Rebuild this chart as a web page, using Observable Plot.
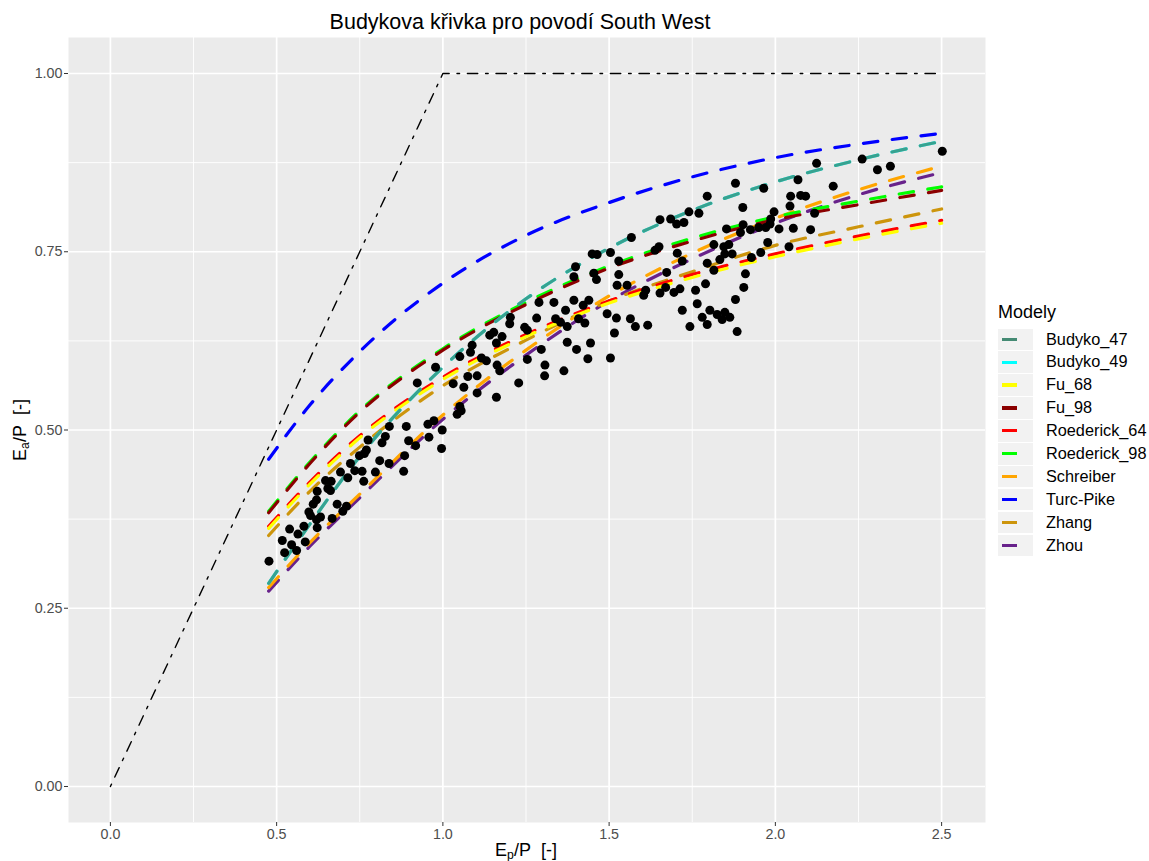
<!DOCTYPE html>
<html>
<head>
<meta charset="utf-8">
<script src="https://cdn.jsdelivr.net/npm/d3@7"></script>
<script src="https://cdn.jsdelivr.net/npm/@observablehq/plot@0.6"></script>
<style>
  html, body { margin: 0; padding: 0; background: white; }
  #wrap { position: relative; width: 1149px; height: 861px; font-family: "Liberation Sans", Arial, sans-serif; color: #000; }
  #title { position: absolute; top: 12px; left: 0; width: 1040px; text-align: center; font-size: 21.5px; line-height: 1; white-space: nowrap; }
  #chart { position: absolute; top: 37px; left: 0; }
  #xlab { position: absolute; top: 841px; left: 426px; width: 200px; text-align: center; font-size: 18px; line-height: 1; white-space: nowrap; }
  #ylab { position: absolute; top: 421px; left: -80px; width: 200px; text-align: center; font-size: 18px; line-height: 1; white-space: nowrap; transform: rotate(-90deg); }
  sub { font-size: 0.68em; vertical-align: -0.25em; line-height: 0; }
  #legend { position: absolute; left: 998px; top: 0; }
  .ltitle { position: absolute; top: 302.5px; left: 0; font-size: 18px; line-height: 1; white-space: nowrap; }
  .lkey { position: absolute; left: 0; width: 35px; height: 21.5px; background: #F2F2F2; }
  .lline { position: absolute; left: 3.5px; width: 15px; height: 3.2px; top: 9.2px; }
  .llab { position: absolute; left: 48px; font-size: 16.3px; line-height: 21.5px; white-space: nowrap; }
</style>
</head>
<body>
<div id="wrap">
  <div id="title">Budykova křivka pro povodí South West</div>
  <div id="chart"></div>
  <div id="ylab">E<sub>a</sub>/P&nbsp; [-]</div>
  <div id="xlab">E<sub>p</sub>/P&nbsp; [-]</div>
  <div id="legend"></div>
</div>
<script>
// Model names and line colours
const models = ["Budyko_47", "Budyko_49", "Fu_68", "Fu_98", "Roederick_64", "Roederick_98", "Schreiber", "Turc-Pike", "Zhang", "Zhou"];
const modelColors = ["#458B74", "#00FFFF", "#FFFF00", "#8B0000", "#FF0000", "#00FF00", "#FFA500", "#0000FF", "#CD950C", "#68228B"];

// Model curves: Ea/P evaluated along Ep/P
const phiGrid      = [0.476, 0.6, 0.75, 1.0, 1.25, 1.5, 1.75, 2.0, 2.25, 2.5];
const budyko47     = [0.285, 0.368, 0.463, 0.588, 0.684, 0.755, 0.808, 0.848, 0.879, 0.905];
const budyko49     = [0.285, 0.368, 0.463, 0.588, 0.684, 0.755, 0.808, 0.848, 0.879, 0.905];
const fu68         = [0.362, 0.424, 0.489, 0.571, 0.631, 0.678, 0.714, 0.743, 0.768, 0.790];
const fu98         = [0.384, 0.453, 0.525, 0.612, 0.676, 0.727, 0.765, 0.795, 0.816, 0.836];
const roederick64  = [0.365, 0.427, 0.492, 0.574, 0.634, 0.681, 0.718, 0.747, 0.772, 0.794];
const roederick98  = [0.386, 0.455, 0.527, 0.614, 0.679, 0.730, 0.769, 0.799, 0.821, 0.841];
const schreiber    = [0.279, 0.342, 0.410, 0.521, 0.612, 0.688, 0.748, 0.797, 0.837, 0.870];
const turcPike     = [0.459, 0.535, 0.610, 0.706, 0.773, 0.819, 0.855, 0.882, 0.901, 0.916];
const zhang        = [0.352, 0.414, 0.476, 0.562, 0.626, 0.681, 0.722, 0.759, 0.785, 0.810];
const zhou         = [0.274, 0.337, 0.405, 0.515, 0.605, 0.681, 0.740, 0.790, 0.830, 0.861];
const modelValues = [budyko47, budyko49, fu68, fu98, roederick64, roederick98, schreiber, turcPike, zhang, zhou];

// Energy / water limits
const limitPhi = [0, 1, 2.5];
const limitVal = [0, 1, 1];

// Observed catchment-years: Ep/P and Ea/P
const epP = [
  0.477,0.517,0.539,0.524,0.545,0.560,0.564,0.586,0.582,0.622,0.620,0.602,0.597,0.610,0.620,0.632,0.622,0.647,0.654,0.664,
  0.662,0.667,0.682,0.699,0.710,0.692,0.714,0.722,0.735,0.757,0.762,0.749,0.764,0.770,0.775,0.797,0.810,0.817,0.827,0.839,
  0.838,0.882,0.885,0.890,0.897,0.918,
  0.955,0.973,0.998,0.958,0.996,0.923,0.978,1.031,1.051,1.063,1.075,1.088,1.083,1.103,1.103,1.051,1.043,1.055,1.116,1.131,
  1.141,1.153,1.161,1.178,1.163,1.171,1.161,1.203,1.201,1.228,1.246,1.254,1.254,1.282,1.289,1.296,1.307,1.306,1.334,1.339,
  1.364,1.374,1.369,1.394,1.402,1.408,
  1.399,1.394,1.454,1.462,1.449,1.464,1.504,1.529,1.529,1.567,1.638,1.650,1.705,1.720,1.673,1.524,1.554,1.610,1.604,1.653,
  1.670,1.695,1.713,1.422,1.439,1.427,1.354,1.374,1.494,1.522,1.564,1.579,1.616,1.516,1.444,1.436,1.504,1.720,1.743,1.760,
  1.765,1.790,1.795,1.780,1.803,1.795,1.815,1.815,1.825,1.840,1.848,1.863,1.833,1.845,1.848,1.860,1.870,1.853,1.903,1.895,
  1.928,1.910,1.905,1.880,1.885,
  1.795,1.880,1.902,1.740,1.770,1.653,1.685,1.703,1.725,
  2.502,2.261,2.307,2.346,2.124,2.068,1.965,2.174,2.046,2.076,2.091,2.044,1.996,1.986,1.984,2.118,1.925,1.950,1.971,2.011,
  2.054,2.106,1.977,2.041,1.956
];
const eaP = [
  0.316,0.345,0.361,0.328,0.339,0.331,0.354,0.343,0.365,0.363,0.374,0.380,0.385,0.396,0.402,0.378,0.414,0.429,0.418,0.428,
  0.415,0.376,0.396,0.386,0.393,0.441,0.433,0.453,0.443,0.442,0.428,0.464,0.467,0.472,0.486,0.441,0.457,0.482,0.491,0.505,
  0.453,0.442,0.464,0.505,0.485,0.478,
  0.508,0.513,0.500,0.490,0.474,0.566,0.588,0.565,0.603,0.560,0.575,0.619,0.609,0.576,0.552,0.533,0.522,0.527,0.601,0.597,
  0.633,0.637,0.622,0.631,0.591,0.583,0.546,0.658,0.649,0.566,0.644,0.640,0.599,0.657,0.679,0.613,0.591,0.576,0.679,0.656,
  0.583,0.623,0.668,0.682,0.613,0.656,
  0.729,0.715,0.720,0.711,0.747,0.746,0.749,0.737,0.718,0.770,0.752,0.757,0.748,0.737,0.721,0.703,0.703,0.696,0.689,0.692,
  0.700,0.693,0.698,0.675,0.682,0.650,0.651,0.645,0.663,0.657,0.656,0.645,0.647,0.636,0.622,0.600,0.601,0.668,0.645,0.696,
  0.677,0.705,0.734,0.658,0.668,0.648,0.760,0.724,0.662,0.655,0.665,0.658,0.739,0.757,0.747,0.760,0.747,0.782,0.788,0.777,
  0.742,0.719,0.700,0.683,0.638,
  0.828,0.846,0.812,0.806,0.804,0.795,0.796,0.789,0.791,
  0.891,0.880,0.865,0.870,0.874,0.851,0.839,0.842,0.828,0.829,0.828,0.814,0.806,0.796,0.789,0.804,0.781,0.784,0.784,0.782,
  0.783,0.781,0.763,0.757,0.749
];

// Axis breaks
const xMajor = [0, 0.5, 1, 1.5, 2, 2.5];
const xMinor = [0.25, 0.75, 1.25, 1.75, 2.25];
const yMajor = [0, 0.25, 0.5, 0.75, 1];
const yMinor = [0.125, 0.375, 0.625, 0.875];

const points = epP.map((p, i) => ({phi: p, val: eaP[i]}));
const limit = limitPhi.map((p, i) => ({phi: p, val: limitVal[i]}));

// One dashed line per model; drawn in reverse so Budyko_47 ends up on top
const lineMarks = models.map((m, k) => {
  const data = phiGrid.map((p, i) => ({phi: p, val: modelValues[k][i]}));
  return Plot.line(data, {
    x: "phi", y: "val", curve: "monotone-x",
    stroke: modelColors[k], strokeWidth: 3.2, strokeDasharray: "14.5,14.5",
    strokeOpacity: m === "Budyko_47" ? 0.8 : 1
  });
}).reverse();

const chart = Plot.plot({
  width: 990,
  height: 824,
  marginLeft: 68, marginRight: 5, marginTop: 0, marginBottom: 39,
  x: {domain: [-0.126, 2.632]},
  y: {domain: [-0.0505, 1.0505]},
  style: {fontFamily: "'Liberation Sans', Arial, sans-serif", color: "#4D4D4D", background: "white", overflow: "visible"},
  marks: [
    Plot.frame({fill: "#EBEBEB", stroke: "none"}),
    Plot.ruleX(xMinor, {stroke: "white", strokeWidth: 0.9}),
    Plot.ruleY(yMinor, {stroke: "white", strokeWidth: 0.9}),
    Plot.ruleX(xMajor, {stroke: "white", strokeWidth: 1.7}),
    Plot.ruleY(yMajor, {stroke: "white", strokeWidth: 1.7}),
    Plot.line(limit, {x: "phi", y: "val", stroke: "black", strokeWidth: 1.4, strokeDasharray: "2.6,7.8,10.4,7.8"}),
    ...lineMarks,
    Plot.dot(points, {x: "phi", y: "val", r: 4.5, fill: "black", stroke: "none"}),
    Plot.axisX({ticks: xMajor, tickFormat: d => d.toFixed(1), tickSize: 4, tickPadding: 2, fontSize: 14.3, label: null, stroke: "#333333"}),
    Plot.axisY({ticks: yMajor, tickFormat: d => d.toFixed(2), tickSize: 4, tickPadding: 2, fontSize: 14.3, label: null, stroke: "#333333"})
  ]
});
document.getElementById("chart").appendChild(chart);

// Legend
const legend = document.getElementById("legend");
const lt = document.createElement("div");
lt.className = "ltitle";
lt.textContent = "Modely";
legend.appendChild(lt);
models.forEach((m, i) => {
  const top = 328.5 + i * 22.9;
  const key = document.createElement("div");
  key.className = "lkey";
  key.style.top = top + "px";
  const ln = document.createElement("div");
  ln.className = "lline";
  ln.style.background = modelColors[i];
  key.appendChild(ln);
  legend.appendChild(key);
  const lab = document.createElement("div");
  lab.className = "llab";
  lab.style.top = top + "px";
  lab.textContent = m;
  legend.appendChild(lab);
});
</script>
</body>
</html>
